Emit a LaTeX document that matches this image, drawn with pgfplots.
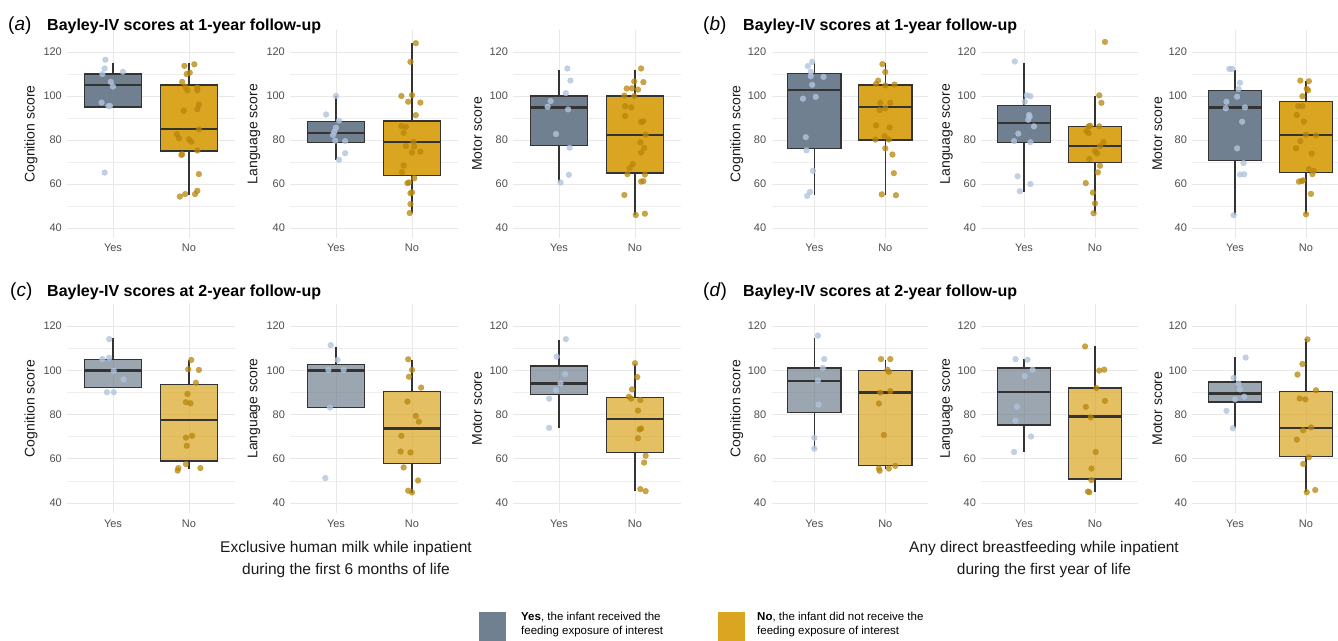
\documentclass[border=0pt]{standalone}
\usepackage{pgfplots}
\pgfplotsset{compat=1.18}
\usepackage{fontspec}
\setmainfont{Liberation Sans}
\definecolor{slate}{RGB}{112,128,144}
\definecolor{gold}{RGB}{218,165,32}
\definecolor{yespt}{RGB}{176,196,222}
\definecolor{nopt}{RGB}{184,134,11}
\definecolor{boxline}{RGB}{51,51,51}
\definecolor{gridc}{RGB}{232,232,232}
\definecolor{tickc}{RGB}{77,77,77}
\definecolor{labc}{RGB}{26,26,26}
\pgfplotsset{
  panel/.style={scale only axis, xmin=0.4, xmax=2.6, ymin=35.5, ymax=130,
    xtick={1,2}, xticklabels={Yes,No}, ytick={40,60,80,100,120}, minor ytick={50,70,90,110},
    xmajorgrids, ymajorgrids, yminorgrids,
    major grid style={draw=gridc, line width=0.9pt},
    minor grid style={draw=gridc!75, line width=0.5pt},
    axis line style={draw=none}, major tick length=0pt, minor tick length=0pt, tick style={draw=none},
    /pgf/number format/assume math mode=true,
    ticklabel style={font=\fontsize{11}{13}\selectfont, text=tickc},
    yticklabel style={xshift=-2pt}, xticklabel style={yshift=-3pt},
    ylabel style={font=\fontsize{14}{16}\selectfont, text=labc, anchor=center}},
  lp/.style={panel, width=167.2pt, ylabel style={at={(axis description cs:-0.217,0.5)}}},
  rp/.style={panel, width=156.2pt, ylabel style={at={(axis description cs:-0.224,0.5)}}},
  r1/.style={height=207.9pt}, r2/.style={height=209pt},
  ptyes/.style={only marks, mark=*, mark size=2.9pt, mark options={draw=yespt, fill=yespt, opacity=0.8, line width=0.3pt}},
  ptno/.style={only marks, mark=*, mark size=2.9pt, mark options={draw=nopt, fill=nopt, opacity=0.75, line width=0.3pt}},
  byes1/.style={fill=slate, draw=boxline, line width=1.2pt},
  bno1/.style={fill=gold, draw=boxline, line width=1.2pt},
  byes2/.style={fill=slate, fill opacity=0.7, draw=boxline, line width=1.2pt},
  bno2/.style={fill=gold, fill opacity=0.7, draw=boxline, line width=1.2pt},
  wsk/.style={draw=boxline, line width=1.1pt},
  med/.style={draw=boxline, line width=2.6pt},
}
% #1 left edge, #2 centre, #3 right edge, #4 lower whisker, #5 Q1, #6 median, #7 Q3, #8 upper whisker, #9 box style
\newcommand{\boxp}[9]{%
  \addplot[wsk] coordinates {(#2,#4)(#2,#5)};
  \addplot[wsk] coordinates {(#2,#7)(#2,#8)};
  \addplot[#9] coordinates {(#1,#5)(#3,#5)(#3,#7)(#1,#7)} -- cycle;
  \addplot[med] coordinates {(#1,#6)(#3,#6)};
}
\begin{document}
\begin{tikzpicture}
% ---------- (a) row 1 left ----------
\begin{axis}[lp, r1, at={(67.4pt,402.1pt)}, anchor=south west, ylabel={Cognition score}]
\boxp{0.625}{1}{1.375}{95}{95}{105}{110}{115}{byes1}
\boxp{1.625}{2}{2.375}{55}{75}{85}{105}{115}{bno1}
\addplot[ptyes] coordinates {(0.90,116.5)(0.89,112.5)(0.86,110)(1.13,111)(0.97,106.4)(1.00,104.3)(0.85,97)(0.96,95.5)(0.94,95.4)(0.89,65.2)};
\addplot[ptno] coordinates {(1.94,113.7)(2.07,114.4)(2.01,110.6)(1.97,110)(1.91,106.4)(1.95,104.2)(2.11,103.8)(1.98,102.6)(2.11,102.6)(2.13,96)(2.11,94)(1.93,93.3)(1.84,82.6)(1.87,80.8)(2.00,80.3)(2.03,79.2)(2.13,84.8)(2.11,75.2)(1.91,73.5)(1.90,73.2)(2.13,64.5)(2.11,56.9)(2.08,55.4)(1.95,55.4)(1.88,54.3)};
\end{axis}
\begin{axis}[lp, r1, at={(290.4pt,402.1pt)}, anchor=south west, ylabel={Language score}]
\boxp{0.625}{1}{1.375}{71}{79}{83.2}{88.3}{100}{byes1}
\boxp{1.625}{2}{2.375}{47}{64}{79}{88.6}{124}{bno1}
\addplot[ptyes] coordinates {(1.00,100)(0.87,91.6)(1.04,88.8)(1.00,85.6)(0.98,83.8)(0.96,82.3)(0.99,79.7)(1.12,79.5)(1.12,74)(1.04,71)};
\addplot[ptno] coordinates {(2.05,124)(1.98,115.5)(1.86,100)(2.00,100.4)(1.95,97.4)(2.11,97)(2.05,91.3)(1.86,86.3)(1.92,86)(1.89,83.3)(2.02,79.2)(1.92,77.3)(2.03,77)(2.00,74.3)(2.11,74.7)(1.89,68.4)(1.87,65.4)(2.03,62.6)(1.96,60.7)(1.94,60.4)(2.00,56.2)(1.98,55.8)(1.98,50.9)(1.97,46.8)};
\end{axis}
\begin{axis}[lp, r1, at={(513.4pt,402.1pt)}, anchor=south west, ylabel={Motor score}]
\boxp{0.625}{1}{1.375}{61}{77.5}{94.7}{100}{112}{byes1}
\boxp{1.625}{2}{2.375}{46}{65}{82.2}{100}{112}{bno1}
\addplot[ptyes] coordinates {(1.11,112.5)(1.15,107)(1.09,101.3)(0.89,97.7)(0.85,95.1)(1.12,93.9)(0.96,82.7)(1.14,76.5)(1.13,64.2)(1.02,60.7)};
\addplot[ptno] coordinates {(2.08,112.5)(2.11,106.3)(1.99,106.6)(1.89,103.4)(1.96,103.5)(2.04,102.9)(1.86,100.2)(1.99,100)(1.87,95.4)(1.95,94.8)(1.87,90.9)(2.08,88.2)(2.11,88.5)(2.14,82.4)(2.07,78.9)(2.12,76.4)(2.08,74.3)(1.97,69)(1.93,67.2)(1.90,64.5)(2.13,64.3)(2.08,61.1)(2.11,61.3)(1.86,55)(2.01,45.9)(2.13,46.5)};
\end{axis}
% ---------- (b) row 1 right ----------
\begin{axis}[rp, r1, at={(771.7pt,402.1pt)}, anchor=south west, ylabel={Cognition score}]
\boxp{0.625}{1}{1.375}{55}{76.2}{102.7}{110.2}{115.5}{byes1}
\boxp{1.625}{2}{2.375}{55}{80}{95}{105}{114.9}{bno1}
\addplot[ptyes] coordinates {(0.97,115.5)(0.91,113.6)(0.95,111)(0.95,109)(1.13,108.7)(0.97,105.1)(0.84,98.8)(1.02,99.6)(0.88,81.3)(0.89,75.3)(0.98,66)(0.94,56.4)(0.90,54.6)};
\addplot[ptno] coordinates {(1.96,114.5)(2.00,110.9)(1.90,107)(1.87,105.5)(2.13,105.2)(2.00,104.8)(1.93,96.9)(2.07,96.9)(1.92,93.6)(2.00,94.4)(1.87,86.6)(2.06,85.7)(1.99,81.7)(1.86,80.2)(2.05,80.2)(2.00,76.2)(2.10,73.4)(2.12,64.9)(1.95,55.3)(2.15,54.9)};
\end{axis}
\begin{axis}[rp, r1, at={(981.4pt,402.1pt)}, anchor=south west, ylabel={Language score}]
\boxp{0.625}{1}{1.375}{56.4}{79}{87.7}{95.6}{115.2}{byes1}
\boxp{1.625}{2}{2.375}{46.7}{69.6}{77.2}{86.2}{100}{bno1}
\addplot[ptyes] coordinates {(0.87,115.7)(1.04,100.3)(1.09,99.9)(1.01,97.4)(1.07,91.4)(1.08,90.6)(1.06,89.2)(1.14,86.2)(0.92,82.9)(0.86,79.5)(1.09,79)(0.91,63.5)(1.09,60)(0.94,56.7)};
\addplot[ptno] coordinates {(2.14,124.6)(2.06,100.3)(2.09,96.9)(1.93,86.5)(1.91,86.2)(2.06,86.2)(1.88,84)(1.91,83.2)(2.12,79)(2.07,77.2)(2.00,75)(2.03,73.9)(1.92,71.3)(2.07,68.3)(2.04,65.3)(1.87,60.4)(1.97,56.1)(2.00,51.2)(1.98,46.7)};
\end{axis}
\begin{axis}[rp, r1, at={(1192.4pt,402.1pt)}, anchor=south west, ylabel={Motor score}]
\boxp{0.625}{1}{1.375}{45.9}{70.8}{94.8}{102.5}{112}{byes1}
\boxp{1.625}{2}{2.375}{46.2}{65.2}{82.2}{97.5}{107}{bno1}
\addplot[ptyes] coordinates {(0.92,112.3)(0.96,112.3)(1.07,106)(1.03,99.7)(1.05,103.2)(0.88,97.4)(0.87,94.4)(1.14,94.8)(1.10,88.3)(1.03,76.2)(1.12,69.5)(1.07,64.3)(1.13,64.4)(0.98,45.8)};
\addplot[ptno] coordinates {(1.92,107)(2.04,106.7)(2.01,103.3)(2.03,102.6)(1.95,99.9)(1.89,95.4)(1.95,95.4)(1.87,91.4)(1.97,88.4)(2.00,82.4)(2.14,82.1)(1.92,79.5)(1.86,76.2)(2.08,73.8)(2.04,66.8)(2.11,66)(2.09,64.5)(1.96,61.6)(1.90,61.1)(1.94,61.4)(2.07,55.5)(2.00,46.2)};
\end{axis}
% ---------- (c) row 2 left ----------
\begin{axis}[lp, r2, at={(67.4pt,127pt)}, anchor=south west, ylabel={Cognition score}]
\boxp{0.625}{1}{1.375}{92.4}{92.4}{100}{105}{114.5}{byes2}
\boxp{1.625}{2}{2.375}{55.3}{59}{77.6}{93.7}{104.7}{bno2}
\addplot[ptyes] coordinates {(0.95,114.1)(0.86,105.1)(0.95,105.7)(1.01,99.8)(1.14,95.9)(0.92,90.1)(1.01,90.1)};
\addplot[ptno] coordinates {(2.03,104.7)(1.99,100.5)(2.13,100.2)(2.09,94.4)(1.98,89.3)(1.96,85.6)(2.02,85.1)(2.04,70.4)(1.96,69.6)(1.97,65.9)(1.96,57.6)(1.86,55.8)(1.85,54.7)(2.15,55.8)};
\end{axis}
\begin{axis}[lp, r2, at={(290.4pt,127pt)}, anchor=south west, ylabel={Language score}]
\boxp{0.625}{1}{1.375}{83.2}{83.2}{100}{102.5}{110.7}{byes2}
\boxp{1.625}{2}{2.375}{44.5}{58}{73.6}{90.4}{104.7}{bno2}
\addplot[ptyes] coordinates {(0.93,111.4)(1.02,104.7)(0.90,100.2)(1.10,100.2)(0.92,83.2)(0.86,51.3)};
\addplot[ptno] coordinates {(1.95,105)(2.00,100.2)(1.96,97.1)(2.12,92.2)(1.94,85.9)(2.05,79.4)(2.09,76.8)(1.86,70.4)(1.85,63.3)(1.98,62.9)(1.89,56.1)(2.08,50.2)(1.95,45.6)(2.00,44.8)};
\end{axis}
\begin{axis}[lp, r2, at={(513.4pt,127pt)}, anchor=south west, ylabel={Motor score}]
\boxp{0.625}{1}{1.375}{74}{89}{94}{102}{113.7}{byes2}
\boxp{1.625}{2}{2.375}{45.3}{63}{78}{87.8}{102.9}{bno2}
\addplot[ptyes] coordinates {(1.09,114.1)(0.97,106.2)(1.08,98.3)(1.02,94.1)(0.96,91.1)(0.87,87.2)(0.87,74)};
\addplot[ptno] coordinates {(2.00,103.2)(2.03,97)(1.96,91.4)(1.92,88.1)(1.95,87.2)(2.07,86.6)(2.04,81.8)(2.08,73.7)(2.06,73.3)(2.04,69.3)(2.14,61.4)(2.12,58.3)(2.07,46.3)(2.14,45.4)};
\end{axis}
% ---------- (d) row 2 right ----------
\begin{axis}[rp, r2, at={(771.7pt,127pt)}, anchor=south west, ylabel={Cognition score}]
\boxp{0.625}{1}{1.375}{64.6}{81.1}{95.1}{101.1}{114.8}{byes2}
\boxp{1.625}{2}{2.375}{55.2}{56.8}{89.9}{99.9}{104.8}{bno2}
\addplot[ptyes] coordinates {(1.05,115.7)(1.14,105.1)(1.12,101.1)(1.05,95.4)(1.06,84.5)(1.00,69.5)(1.00,64.6)};
\addplot[ptno] coordinates {(1.94,105.1)(2.07,105.1)(2.03,100.3)(2.05,99.3)(2.07,90.6)(1.93,89.9)(1.91,85)(1.98,70.8)(1.91,55.6)(1.92,54.6)(2.05,55.6)(2.14,56.8)};
\end{axis}
\begin{axis}[rp, r2, at={(981.4pt,127pt)}, anchor=south west, ylabel={Language score}]
\boxp{0.625}{1}{1.375}{63.1}{75.3}{90.2}{101.1}{105.1}{byes2}
\boxp{1.625}{2}{2.375}{45.2}{50.9}{79.2}{92}{110.8}{bno2}
\addplot[ptyes] coordinates {(0.88,105.1)(1.05,104.8)(1.01,97.4)(1.12,100.3)(0.90,83.6)(0.88,77.2)(1.10,70.1)(0.86,63.1)};
\addplot[ptno] coordinates {(1.86,110.8)(2.06,99.9)(2.13,100.3)(2.02,92)(2.14,86.2)(1.87,83.5)(1.94,78.7)(2.01,63.1)(1.95,55.6)(1.95,50.4)(1.90,45.2)(1.92,44.9)};
\end{axis}
\begin{axis}[rp, r2, at={(1192.4pt,127pt)}, anchor=south west, ylabel={Motor score}]
\boxp{0.625}{1}{1.375}{73.8}{85.7}{89.4}{94.7}{106}{byes2}
\boxp{1.625}{2}{2.375}{44.9}{60.9}{74}{90.6}{114}{bno2}
\addplot[ptyes] coordinates {(1.15,105.8)(0.98,96.6)(1.05,94)(1.07,91.4)(1.13,88.1)(1.00,86.9)(0.88,81.7)(0.97,73.8)};
\addplot[ptno] coordinates {(2.02,114)(1.95,102.9)(1.88,98.1)(2.14,91)(1.91,87.3)(1.99,86.9)(2.07,74.2)(1.96,72.9)(1.87,68.7)(2.04,60.7)(1.96,57.7)(2.01,44.9)(2.13,45.9)};
\end{axis}
% ---------- titles ----------
\node[anchor=base west, font=\fontsize{19}{22}\selectfont, inner sep=0pt] at (8pt,609pt) {(\textit{a})};
\node[anchor=base west, font=\fontsize{16}{19}\selectfont\bfseries, inner sep=0pt] at (47pt,609pt) {Bayley-IV scores at 1-year follow-up};
\node[anchor=base west, font=\fontsize{19}{22}\selectfont, inner sep=0pt] at (703pt,609pt) {(\textit{b})};
\node[anchor=base west, font=\fontsize{16}{19}\selectfont\bfseries, inner sep=0pt] at (743pt,609pt) {Bayley-IV scores at 1-year follow-up};
\node[anchor=base west, font=\fontsize{19}{22}\selectfont, inner sep=0pt] at (10pt,343.3pt) {(\textit{c})};
\node[anchor=base west, font=\fontsize{16}{19}\selectfont\bfseries, inner sep=0pt] at (47pt,343.3pt) {Bayley-IV scores at 2-year follow-up};
\node[anchor=base west, font=\fontsize{19}{22}\selectfont, inner sep=0pt] at (703pt,343.3pt) {(\textit{d})};
\node[anchor=base west, font=\fontsize{16}{19}\selectfont\bfseries, inner sep=0pt] at (743pt,343.3pt) {Bayley-IV scores at 2-year follow-up};
% ---------- x group titles ----------
\node[align=center, font=\fontsize{15.5}{22}\selectfont, text=labc] at (346pt,81pt) {Exclusive human milk while inpatient\\during the first 6 months of life};
\node[align=center, font=\fontsize{15.5}{22}\selectfont, text=labc] at (1044pt,81pt) {Any direct breastfeeding while inpatient\\during the first year of life};
% ---------- legend ----------
\fill[slate] (479.3pt,28.3pt) rectangle (506pt,-2pt);
\fill[gold] (717.7pt,28.3pt) rectangle (745pt,-2pt);
\node[anchor=base west, inner sep=0pt, font=\fontsize{11.5}{13.6}\selectfont] at (521pt,19.3pt) {\textbf{Yes}, the infant received the};
\node[anchor=base west, inner sep=0pt, font=\fontsize{11.5}{13.6}\selectfont] at (521pt,5.7pt) {feeding exposure of interest};
\node[anchor=base west, inner sep=0pt, font=\fontsize{11.5}{13.6}\selectfont] at (757pt,19.3pt) {\textbf{No}, the infant did not receive the};
\node[anchor=base west, inner sep=0pt, font=\fontsize{11.5}{13.6}\selectfont] at (757pt,5.7pt) {feeding exposure of interest};
\pgfresetboundingbox
\useasboundingbox (0pt,0pt) rectangle (1338pt,640pt);
\end{tikzpicture}
\end{document}
